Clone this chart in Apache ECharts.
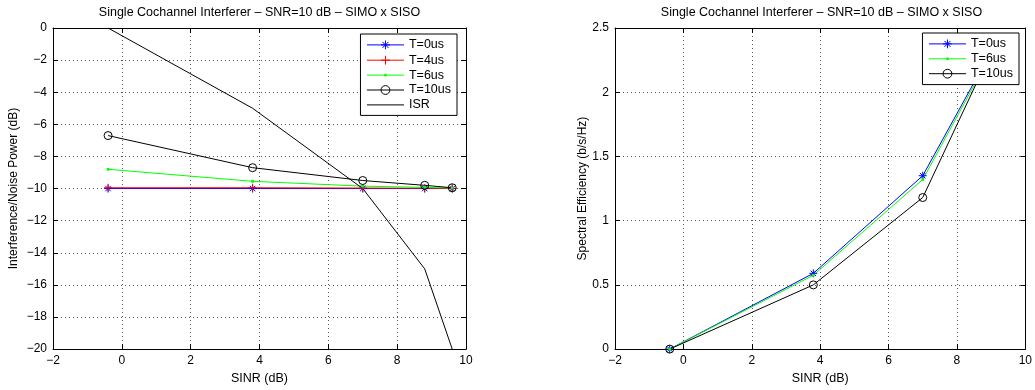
<!DOCTYPE html>
<html>
<head>
<meta charset="utf-8">
<script src="https://cdn.jsdelivr.net/npm/echarts@6/dist/echarts.min.js"></script>
<style>
html,body{margin:0;padding:0;background:#fff;}
#chart{width:1035px;height:390px;}
</style>
</head>
<body>
<div id="chart"></div>
<script>
// ---- data ----
const sinr = [-0.4, 3.8, 7.0, 8.8, 9.6];
// left plot: Interference/Noise Power (dB)
const inpT0 = [-10.0, -10.0, -10.0, -10.0, -10.0];
const inpT4 = [-9.95, -9.95, -9.97, -9.98, -9.98];
const inpT6 = [-8.8, -9.55, -9.85, -9.93, -9.97];
const inpT10 = [-6.7, -8.7, -9.5, -9.8, -9.95];
const isr = [0, -5, -10, -15, -20];
// right plot: Spectral Efficiency (b/s/Hz)
const seT0 = [0, 0.59, 1.35, 2.22, 2.42];
const seT6 = [0, 0.575, 1.32, 2.2, 2.41];
const seT10 = [0, 0.5, 1.18, 2.2, 2.4];

const titleText = 'Single Cochannel Interferer \u2013 SNR=10 dB \u2013 SIMO x SISO';
const leftNames = ['T=0us', 'T=4us', 'T=6us', 'T=10us', 'ISR'];
const rightNames = ['T=0us', 'T=6us', 'T=10us'];

const FONT = 'Liberation Sans, Arial, Helvetica, sans-serif';
const pair = (xs, ys) => xs.map((x, i) => [x, ys[i]]);
const fmt = v => String(v).replace('-', '\u2212');

const starPath = 'path://M0,5L10,5M5,0L5,10M1.6,1.6L8.4,8.4M8.4,1.6L1.6,8.4';
const plusPath = 'path://M0,5L10,5M5,0L5,10';
const dotPath = 'path://M0,0M10,10M3.6,3.6L6.4,3.6L6.4,6.4L3.6,6.4Z';

function xAxes(grid) {
  return [
    {
      type: 'value', gridIndex: grid, min: -2, max: 10, interval: 2, position: 'bottom',
      name: 'SINR (dB)', nameLocation: 'middle', nameGap: 22,
      nameTextStyle: {fontFamily: FONT, fontSize: 12.5, color: '#000'},
      axisLine: {onZero: false, lineStyle: {color: '#000', width: 1}},
      axisTick: {inside: true, length: 5, lineStyle: {color: '#000'}},
      axisLabel: {formatter: fmt, fontFamily: FONT, fontSize: 12, color: '#000', margin: 6},
      splitLine: {show: true, lineStyle: {color: '#555', type: [1, 3], width: 1}}
    },
    {
      type: 'value', gridIndex: grid, min: -2, max: 10, interval: 2, position: 'top',
      axisLine: {onZero: false, lineStyle: {color: '#000', width: 1}},
      axisTick: {inside: true, length: 5, lineStyle: {color: '#000'}},
      axisLabel: {show: false}, splitLine: {show: false}
    }
  ];
}
function yAxes(grid, min, max, interval, name, gap) {
  return [
    {
      type: 'value', gridIndex: grid, min: min, max: max, interval: interval, position: 'left',
      name: name, nameLocation: 'middle', nameGap: gap,
      nameTextStyle: {fontFamily: FONT, fontSize: 12, color: '#000'},
      axisLine: {onZero: false, lineStyle: {color: '#000', width: 1}},
      axisTick: {inside: true, length: 5, lineStyle: {color: '#000'}},
      axisLabel: {formatter: fmt, fontFamily: FONT, fontSize: 12, color: '#000', margin: 6},
      splitLine: {show: true, lineStyle: {color: '#555', type: [1, 3], width: 1}}
    },
    {
      type: 'value', gridIndex: grid, min: min, max: max, interval: interval, position: 'right',
      axisLine: {onZero: false, lineStyle: {color: '#000', width: 1}},
      axisTick: {inside: true, length: 5, lineStyle: {color: '#000'}},
      axisLabel: {show: false}, splitLine: {show: false}
    }
  ];
}

function ser(name, xi, yi, data, color, symbol, size, fill, border, showSym) {
  return {
    type: 'line', name: name, xAxisIndex: xi, yAxisIndex: yi, data: data,
    symbol: symbol, symbolSize: size, showSymbol: showSym !== false,
    lineStyle: {color: color, width: 1},
    itemStyle: {color: fill, borderColor: border, borderWidth: border === 'none' ? 0 : 1},
    emphasis: {disabled: true}, animation: false, clip: true, z: 3
  };
}

function legendOpt(names, right, top) {
  return {
    data: names, orient: 'vertical', right: right, top: top,
    backgroundColor: '#fff', borderColor: '#000', borderWidth: 1,
    padding: [4, 6, 4, 6], itemGap: 1.5, itemWidth: 37, itemHeight: 11,
    lineStyle: {width: 1},
    itemStyle: {borderWidth: 1},
    textStyle: {fontFamily: FONT, fontSize: 12.5, color: '#000', lineHeight: 12},
    selectedMode: false
  };
}

const chart = echarts.init(document.getElementById('chart'), null, {renderer: 'canvas'});
chart.setOption({
  animation: false,
  backgroundColor: '#fff',
  title: [
    {text: titleText, left: 259.5, top: 6, padding: 0, textAlign: 'center',
     textStyle: {fontFamily: FONT, fontSize: 12.5, fontWeight: 'normal', color: '#000'}},
    {text: titleText, left: 821.5, top: 6, padding: 0, textAlign: 'center',
     textStyle: {fontFamily: FONT, fontSize: 12.5, fontWeight: 'normal', color: '#000'}}
  ],
  grid: [
    {left: 53, top: 28, width: 413, height: 324},
    {left: 615, top: 28, width: 413, height: 324}
  ],
  xAxis: xAxes(0).concat(xAxes(1)),
  yAxis: yAxes(0, -20, 0, 2, 'Interference/Noise Power (dB)', 33)
    .concat(yAxes(1, 0, 2.5, 0.5, 'Spectral Efficiency (b/s/Hz)', 26)),
  legend: [legendOpt(leftNames, 578, 34), legendOpt(rightNames, 16, 33)],
  series: [
    ser('T=0us', 0, 0, pair(sinr, inpT0), '#0000ff', starPath, 8, 'none', '#0000ff'),
    ser('T=4us', 0, 0, pair(sinr, inpT4), '#ff0000', plusPath, 8, 'none', '#ff0000'),
    ser('T=6us', 0, 0, pair(sinr, inpT6), '#00ff00', dotPath, 10, '#00ff00', 'none'),
    ser('T=10us', 0, 0, pair(sinr, inpT10), '#000000', 'circle', 8, 'none', '#000000'),
    ser('ISR', 0, 0, pair(sinr, isr), '#000000', 'circle', 0, 'none', 'none', false),
    ser('T=0us', 2, 2, pair(sinr, seT0), '#0000ff', starPath, 8, 'none', '#0000ff'),
    ser('T=6us', 2, 2, pair(sinr, seT6), '#00ff00', dotPath, 10, '#00ff00', 'none'),
    ser('T=10us', 2, 2, pair(sinr, seT10), '#000000', 'circle', 8, 'none', '#000000')
  ]
});
</script>
</body>
</html>
